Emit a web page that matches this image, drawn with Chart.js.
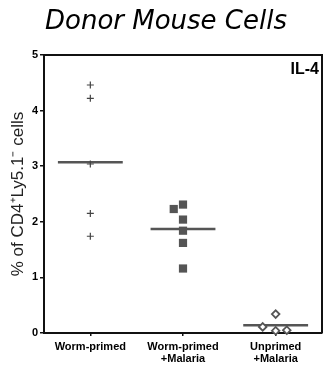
<!DOCTYPE html>
<html>
<head>
<meta charset="utf-8">
<script src="https://cdn.jsdelivr.net/npm/chart.js@4"></script>
<style>
    body { margin: 0; background: #fff; overflow: hidden; }
    #wrap { width: 324px; height: 370px; position: relative; }
</style>
</head>
<body>
<div id="wrap"><canvas id="chart"></canvas></div>
<script>
const groups = [['Worm-primed'], ['Worm-primed', '+Malaria'], ['Unprimed', '+Malaria']];
const yTicks = [0, 1, 2, 3, 4, 5];

// values (x = group index with a little jitter)
const wormX = [0, 0, 0, 0, 0];
const wormY = [4.46, 4.22, 3.04, 2.15, 1.74];
const wormMalariaX = [1, 0.9, 1, 1, 1, 1];
const wormMalariaY = [2.31, 2.23, 2.04, 1.84, 1.62, 1.16];
const unprimedX = [2, 1.86, 2, 2.12];
const unprimedY = [0.34, 0.11, 0.04, 0.05];
const medians = [3.07, 1.87, 0.14];

const toPoints = (xs, ys) => ys.map((y, i) => ({ x: xs[i], y: y }));

const halfWidth = 0.35;
const medianSets = medians.map((m, i) => ({
    type: 'line',
    data: [{ x: i - halfWidth, y: m }, { x: i + halfWidth, y: m }],
    borderColor: '#555',
    borderWidth: 2.5,
    pointRadius: 0,
    clip: false
}));

const frame = {
    id: 'frame',
    afterDraw(chart) {
        const { ctx, chartArea: a } = chart;
        ctx.save();
        ctx.strokeStyle = '#111';
        ctx.lineWidth = 2;
        ctx.beginPath();
        ctx.moveTo(a.left, a.top);
        ctx.lineTo(a.right, a.top);
        ctx.lineTo(a.right, a.bottom);
        ctx.stroke();

        ctx.fillStyle = '#000';
        ctx.textAlign = 'center';
        ctx.textBaseline = 'alphabetic';
        ctx.font = "italic 26px 'DejaVu Sans'";
        ctx.fillText('Donor Mouse Cells', 166, 29);

        ctx.textAlign = 'right';
        ctx.textBaseline = 'top';
        ctx.font = "bold 16px 'Liberation Sans'";
        ctx.fillText('IL-4', a.right - 3, a.top + 7);
        ctx.restore();
    }
};

new Chart(document.getElementById('chart'), {
    type: 'scatter',
    data: {
        datasets: [
            {
                data: toPoints(wormX, wormY),
                pointStyle: 'cross',
                radius: 3.5,
                borderColor: '#444',
                borderWidth: 1.2,
                clip: false
            },
            {
                data: toPoints(wormMalariaX, wormMalariaY),
                pointStyle: 'rect',
                radius: 5.8,
                backgroundColor: '#555',
                borderColor: '#555',
                borderWidth: 0,
                clip: false
            },
            {
                data: toPoints(unprimedX, unprimedY),
                pointStyle: 'rectRot',
                radius: 3.8,
                backgroundColor: '#fff',
                borderColor: '#555',
                borderWidth: 1.8,
                clip: false
            },
            ...medianSets
        ]
    },
    options: {
        responsive: true,
        maintainAspectRatio: false,
        animation: false,
        layout: { autoPadding: false, padding: { top: 55, right: 2, left: 0, bottom: 0 } },
        plugins: {
            legend: { display: false },
            tooltip: { enabled: false },
            title: { display: false }
        },
        scales: {
            x: {
                type: 'linear',
                min: -0.5,
                max: 2.5,
                afterBuildTicks: scale => {
                    scale.ticks = groups.map((g, i) => ({ value: i }));
                },
                afterFit: scale => {
                    scale.height = 37;
                    scale.paddingLeft = 0;
                    scale.paddingRight = 0;
                },
                border: { display: true, color: '#111', width: 2 },
                grid: { display: true, drawOnChartArea: false, drawTicks: true, tickLength: 3, color: '#111', lineWidth: 1.5 },
                ticks: {
                    autoSkip: false,
                    maxRotation: 0,
                    padding: 5,
                    color: '#000',
                    font: { family: "'Liberation Sans'", size: 11, weight: 'bold', lineHeight: 1.1 },
                    callback: value => groups[value] || ''
                }
            },
            y: {
                min: 0,
                max: 5,
                afterBuildTicks: scale => {
                    scale.ticks = yTicks.map(v => ({ value: v }));
                },
                afterFit: scale => { scale.width = 44; },
                border: { display: true, color: '#111', width: 2 },
                grid: { display: true, drawOnChartArea: false, drawTicks: true, tickLength: 4, color: '#111', lineWidth: 1.5 },
                ticks: {
                    padding: 2,
                    color: '#000',
                    font: { family: "'Liberation Sans'", size: 11, weight: 'bold' }
                },
                title: {
                    display: true,
                    text: '% of CD4\u207ALy5.1\u207B cells',
                    color: '#222',
                    padding: { top: 8, bottom: 0 },
                    font: { family: "'Liberation Sans'", size: 17 }
                }
            }
        }
    },
    plugins: [frame]
});
</script>
</body>
</html>
